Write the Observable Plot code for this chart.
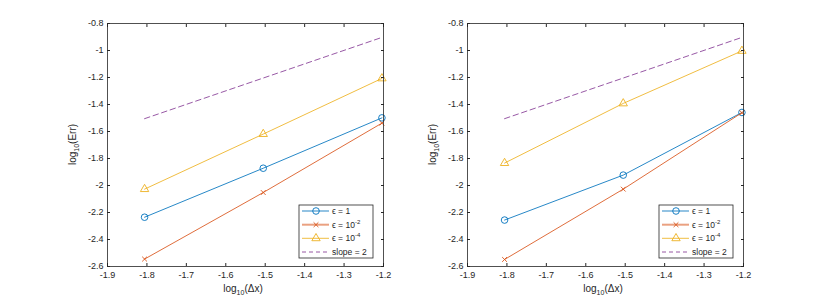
<!DOCTYPE html>
<html><head><meta charset="utf-8">
<script src="https://cdn.jsdelivr.net/npm/d3@7"></script>
<script src="https://cdn.jsdelivr.net/npm/@observablehq/plot@0.6"></script>
<style>
html,body{margin:0;padding:0;background:#fff;}
#wrap{display:flex;width:817px;height:301px;background:#fff;}
#wrap svg{font-family:"Liberation Sans",Arial,sans-serif;overflow:visible;}
</style></head><body><div id="wrap"></div>
<script>
// x positions: log10(Δx)
const logDx = [-1.806, -1.505, -1.204];
// reference slope line
const slopeX = [-1.806, -1.204];
const slopeY = [-1.505, -0.903];
// left panel log10(Err)
const leftEps1 = [-2.235, -1.872, -1.499];
const leftEps2 = [-2.545, -2.052, -1.538];
const leftEps4 = [-2.027, -1.619, -1.207];
// right panel log10(Err)
const rightEps1 = [-2.256, -1.923, -1.459];
const rightEps2 = [-2.548, -2.027, -1.461];
const rightEps4 = [-1.834, -1.392, -1.003];
// ticks
const xTicks = [-1.9, -1.8, -1.7, -1.6, -1.5, -1.4, -1.3, -1.2];
const yTicks = [-0.8, -1, -1.2, -1.4, -1.6, -1.8, -2, -2.2, -2.4, -2.6];
const seriesExp = ["", "-2", "-4"];
const colors = ["#0072BD", "#D95319", "#EDB120", "#7E2F8E"];
const symbols = ["circle", "times", "triangle"];
const symbolR = [3.3, 2.3, 3.1];

const axisColor = "#262626";

function panel(series, width, marginLeft, marginRight) {
  const rows = [];
  series.forEach((ys, i) => ys.forEach((y, j) => rows.push({x: logDx[j], y, s: i})));
  const slope = slopeX.map((x, j) => ({x, y: slopeY[j]}));
  const marks = [
    Plot.line(slope, {x: "x", y: "y", stroke: colors[3], strokeWidth: 0.8, strokeDasharray: "5.5,3.5"})
  ];
  series.forEach((ys, i) => {
    const d = rows.filter(r => r.s === i);
    marks.push(Plot.line(d, {x: "x", y: "y", stroke: colors[i], strokeWidth: 0.85}));
    marks.push(Plot.dot(d, {x: "x", y: "y", stroke: colors[i], fill: "none", symbol: () => symbols[i], r: symbolR[i], strokeWidth: 0.9}));
  });
  const fmt = d => String(d);
  marks.push(
    Plot.frame({stroke: axisColor, strokeWidth: 0.8}),
    Plot.axisX({ticks: xTicks, anchor: "bottom", tickSize: -3, tickPadding: 8, tickFormat: fmt, label: null, fontSize: 9, color: axisColor, stroke: axisColor}),
    Plot.axisX({ticks: xTicks, anchor: "top", tickSize: -3, tickFormat: () => "", label: null, stroke: axisColor}),
    Plot.axisY({ticks: yTicks, anchor: "left", tickSize: -3, tickPadding: 7, tickFormat: fmt, label: null, fontSize: 9, color: axisColor, stroke: axisColor}),
    Plot.axisY({ticks: yTicks, anchor: "right", tickSize: -3, tickFormat: () => "", label: null, stroke: axisColor})
  );
  const chart = Plot.plot({
    width, height: 301,
    marginLeft, marginRight, marginTop: 23, marginBottom: 35,
    x: {domain: [-1.9, -1.2]},
    y: {domain: [-2.6, -0.8]},
    style: {background: "#fff", color: axisColor},
    marks
  });
  const sx = chart.scale("x"), sy = chart.scale("y");
  const svg = d3.select(chart);
  const x0 = sx.apply(-1.9), x1 = sx.apply(-1.2), y0 = sy.apply(-2.6), y1 = sy.apply(-0.8);
  // x label
  const xl = svg.append("text").attr("x", (x0 + x1) / 2 - 2).attr("y", y0 + 26)
    .attr("text-anchor", "middle").attr("font-size", 10).attr("fill", axisColor);
  xl.append("tspan").text("log");
  xl.append("tspan").attr("font-size", 7).attr("dy", 3).text("10");
  xl.append("tspan").attr("dy", -3).text("(Δx)");
  // y label
  const yl = svg.append("text").attr("transform", `translate(${x0 - 31},${(y0 + y1) / 2}) rotate(-90)`)
    .attr("text-anchor", "middle").attr("font-size", 10).attr("fill", axisColor);
  yl.append("tspan").text("log");
  yl.append("tspan").attr("font-size", 7).attr("dy", 3).text("10");
  yl.append("tspan").attr("dy", -3).text("(Err)");
  // legend
  const bw = 74, bh = 53;
  const bx = x1 - 10 - bw, by = y0 - 8 - bh;
  const g = svg.append("g").attr("transform", `translate(${bx},${by})`);
  g.append("rect").attr("width", bw).attr("height", bh).attr("fill", "#fff").attr("stroke", axisColor).attr("stroke-width", 0.8);
  const rowY = [6, 19.7, 33.3, 47];
  const sym = {circle: d3.symbolCircle, times: d3.symbolTimes, triangle: d3.symbolTriangle};
  for (let i = 0; i < 4; i++) {
    const ry = rowY[i];
    const ln = g.append("line").attr("x1", 3).attr("x2", 30).attr("y1", ry).attr("y2", ry).attr("stroke", colors[i]);
    if (i === 3) ln.attr("stroke-dasharray", "4,3").attr("stroke-width", 0.8);
    else if (i === 1) ln.attr("stroke-width", 2).attr("stroke-opacity", 0.55);
    else ln.attr("stroke-width", 0.85);
    if (i < 3) {
      g.append("path").attr("transform", `translate(17,${ry})`)
        .attr("d", d3.symbol(sym[symbols[i]], Math.PI * symbolR[i] * symbolR[i])())
        .attr("fill", "none").attr("stroke", colors[i]).attr("stroke-width", 0.9);
    }
    const t = g.append("text").attr("x", 33).attr("y", ry + 3).attr("font-size", 8.5)
      .attr("text-anchor", "start").attr("fill", axisColor);
    if (i === 3) t.text("slope = 2");
    else if (i === 0) t.text("ϵ = 1");
    else {
      t.append("tspan").text("ϵ = 10");
      t.append("tspan").attr("font-size", 6).attr("dy", -4).text(seriesExp[i]);
    }
  }
  return chart;
}

const wrap = document.getElementById("wrap");
wrap.append(panel([leftEps1, leftEps2, leftEps4], 409, 107, 26));
wrap.append(panel([rightEps1, rightEps2, rightEps4], 408, 58, 74));
</script></body></html>
